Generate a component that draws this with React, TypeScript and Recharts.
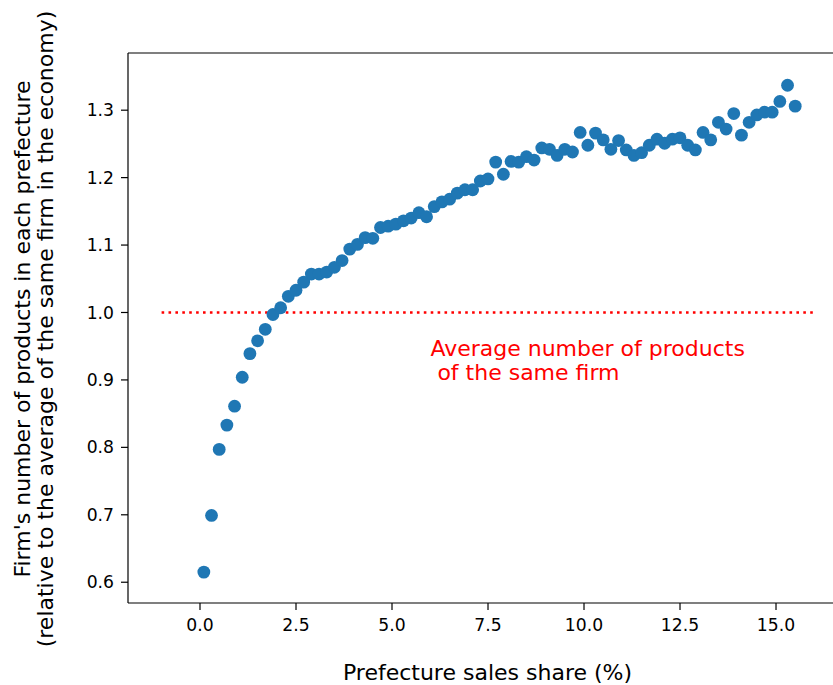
import React from 'react';
import { ScatterChart, Scatter, XAxis, YAxis, ReferenceLine, ReferenceDot } from 'recharts';

const shares = [
  0.1, 0.3, 0.5, 0.7, 0.9, 1.1, 1.3, 1.5, 1.7, 1.9,
  2.1, 2.3, 2.5, 2.7, 2.9, 3.1, 3.3, 3.5, 3.7, 3.9,
  4.1, 4.3, 4.5, 4.7, 4.9, 5.1, 5.3, 5.5, 5.7, 5.9,
  6.1, 6.3, 6.5, 6.7, 6.9, 7.1, 7.3, 7.5, 7.7, 7.9,
  8.1, 8.3, 8.5, 8.7, 8.9, 9.1, 9.3, 9.5, 9.7, 9.9,
  10.1, 10.3, 10.5, 10.7, 10.9, 11.1, 11.3, 11.5, 11.7, 11.9,
  12.1, 12.3, 12.5, 12.7, 12.9, 13.1, 13.3, 13.5, 13.7, 13.9,
  14.1, 14.3, 14.5, 14.7, 14.9, 15.1, 15.3, 15.5,
];

const productRatios = [
  0.615, 0.699, 0.797, 0.833, 0.861, 0.904, 0.939, 0.958, 0.975, 0.997,
  1.007, 1.024, 1.033, 1.045, 1.057, 1.057, 1.060, 1.067, 1.077, 1.094,
  1.101, 1.111, 1.110, 1.126, 1.128, 1.131, 1.136, 1.140, 1.148, 1.142,
  1.157, 1.164, 1.168, 1.177, 1.182, 1.182, 1.195, 1.198, 1.223, 1.205,
  1.224, 1.223, 1.231, 1.226, 1.244, 1.242, 1.233, 1.242, 1.238, 1.267,
  1.248, 1.266, 1.256, 1.242, 1.255, 1.241, 1.233, 1.237, 1.248, 1.257,
  1.251, 1.257, 1.259, 1.248, 1.241, 1.267, 1.256, 1.282, 1.272, 1.295,
  1.263, 1.282, 1.293, 1.297, 1.297, 1.313, 1.337, 1.306,
];

const xTicks = [0, 2.5, 5, 7.5, 10, 12.5, 15];
const yTicks = [0.6, 0.7, 0.8, 0.9, 1.0, 1.1, 1.2, 1.3];

const averageLevel = 1.0;
const averageLineFrom = -1;
const averageLineTo = 16;
const annotationX = 6;
const annotationY = 0.9;
const annotationLines = ['Average number of products', ' of the same firm'];

const xLabel = 'Prefecture sales share (%)';
const yLabelLines = [
  "Firm's number of products in each prefecture",
  '(relative to the average of the same firm in the economy)',
];

const X_DOMAIN: [number, number] = [-1.875, 16.484];
const Y_DOMAIN: [number, number] = [0.5692, 1.3848];

const FONT = '"DejaVu Sans", sans-serif';
const DOT_COLOR = '#1f77b4';
const LABEL_SIZE = 22;
const TICK_SIZE = 17.2;

const data = shares.map((s, i) => ({ x: s, y: productRatios[i] }));

const Dot = (props: any) => {
  const { cx, cy } = props;
  if (cx == null || cy == null) return null;
  return <circle cx={cx} cy={cy} r={6.4} fill={DOT_COLOR} />;
};

const Annotation = (props: any) => {
  const { cx, cy } = props;
  if (cx == null || cy == null) return null;
  const lh = 23.5;
  return (
    <text
      x={cx}
      y={cy}
      fill="red"
      fontSize={LABEL_SIZE}
      fontFamily={FONT}
      xmlSpace="preserve"
      style={{ whiteSpace: 'pre' }}
    >
      <tspan x={cx} y={cy - lh}>{annotationLines[0]}</tspan>
      <tspan x={cx} y={cy}>{annotationLines[1]}</tspan>
    </text>
  );
};

const YLabel = (props: any) => {
  const vb = props.viewBox || {};
  const cy = (vb.y ?? 53) + (vb.height ?? 550) / 2 + 1;
  const xs = [29.5, 52.7];
  return (
    <g>
      {yLabelLines.map((t, i) => (
        <text
          key={i}
          x={xs[i]}
          y={cy}
          transform={`rotate(-90, ${xs[i]}, ${cy})`}
          textAnchor="middle"
          fontSize={LABEL_SIZE}
          fontFamily={FONT}
          fill="#000"
        >
          {t}
        </text>
      ))}
    </g>
  );
};

const XLabel = () => (
  <text
    x={487.5}
    y={679.5}
    textAnchor="middle"
    fontSize={LABEL_SIZE}
    fontFamily={FONT}
    fill="#000"
  >
    {xLabel}
  </text>
);

export default function App() {
  return (
    <div style={{ position: 'absolute', left: 0, top: 0, width: 833, height: 685, background: '#fff' }}>
      <ScatterChart
        width={833}
        height={685}
        margin={{ top: 53, right: 0, bottom: 0, left: 0 }}
      >
        <XAxis
          type="number"
          dataKey="x"
          domain={X_DOMAIN}
          allowDataOverflow
          ticks={xTicks}
          tickFormatter={(v: number) => v.toFixed(1)}
          height={82}
          tickSize={7}
          tickMargin={9}
          stroke="#000"
          strokeWidth={1.2}
          tick={{ fill: '#000', fontSize: TICK_SIZE, fontFamily: FONT }}
          label={{ content: XLabel }}
        />
        <YAxis
          type="number"
          dataKey="y"
          domain={Y_DOMAIN}
          allowDataOverflow
          ticks={yTicks}
          tickFormatter={(v: number) => v.toFixed(1)}
          width={128}
          tickSize={7}
          tickMargin={7}
          stroke="#000"
          strokeWidth={1.2}
          tick={{ fill: '#000', fontSize: TICK_SIZE, fontFamily: FONT }}
          label={{ content: YLabel }}
        />
        <ReferenceLine y={Y_DOMAIN[1]} stroke="#000" strokeWidth={1.2} ifOverflow="visible" />
        <ReferenceLine
          segment={[
            { x: averageLineFrom, y: averageLevel },
            { x: averageLineTo, y: averageLevel },
          ]}
          stroke="red"
          strokeWidth={2.6}
          strokeDasharray="2.6 4.3"
          ifOverflow="visible"
        />
        <Scatter data={data} shape={Dot} isAnimationActive={false} />
        <ReferenceDot x={annotationX} y={annotationY} r={0} shape={Annotation} ifOverflow="visible" />
      </ScatterChart>
    </div>
  );
}
